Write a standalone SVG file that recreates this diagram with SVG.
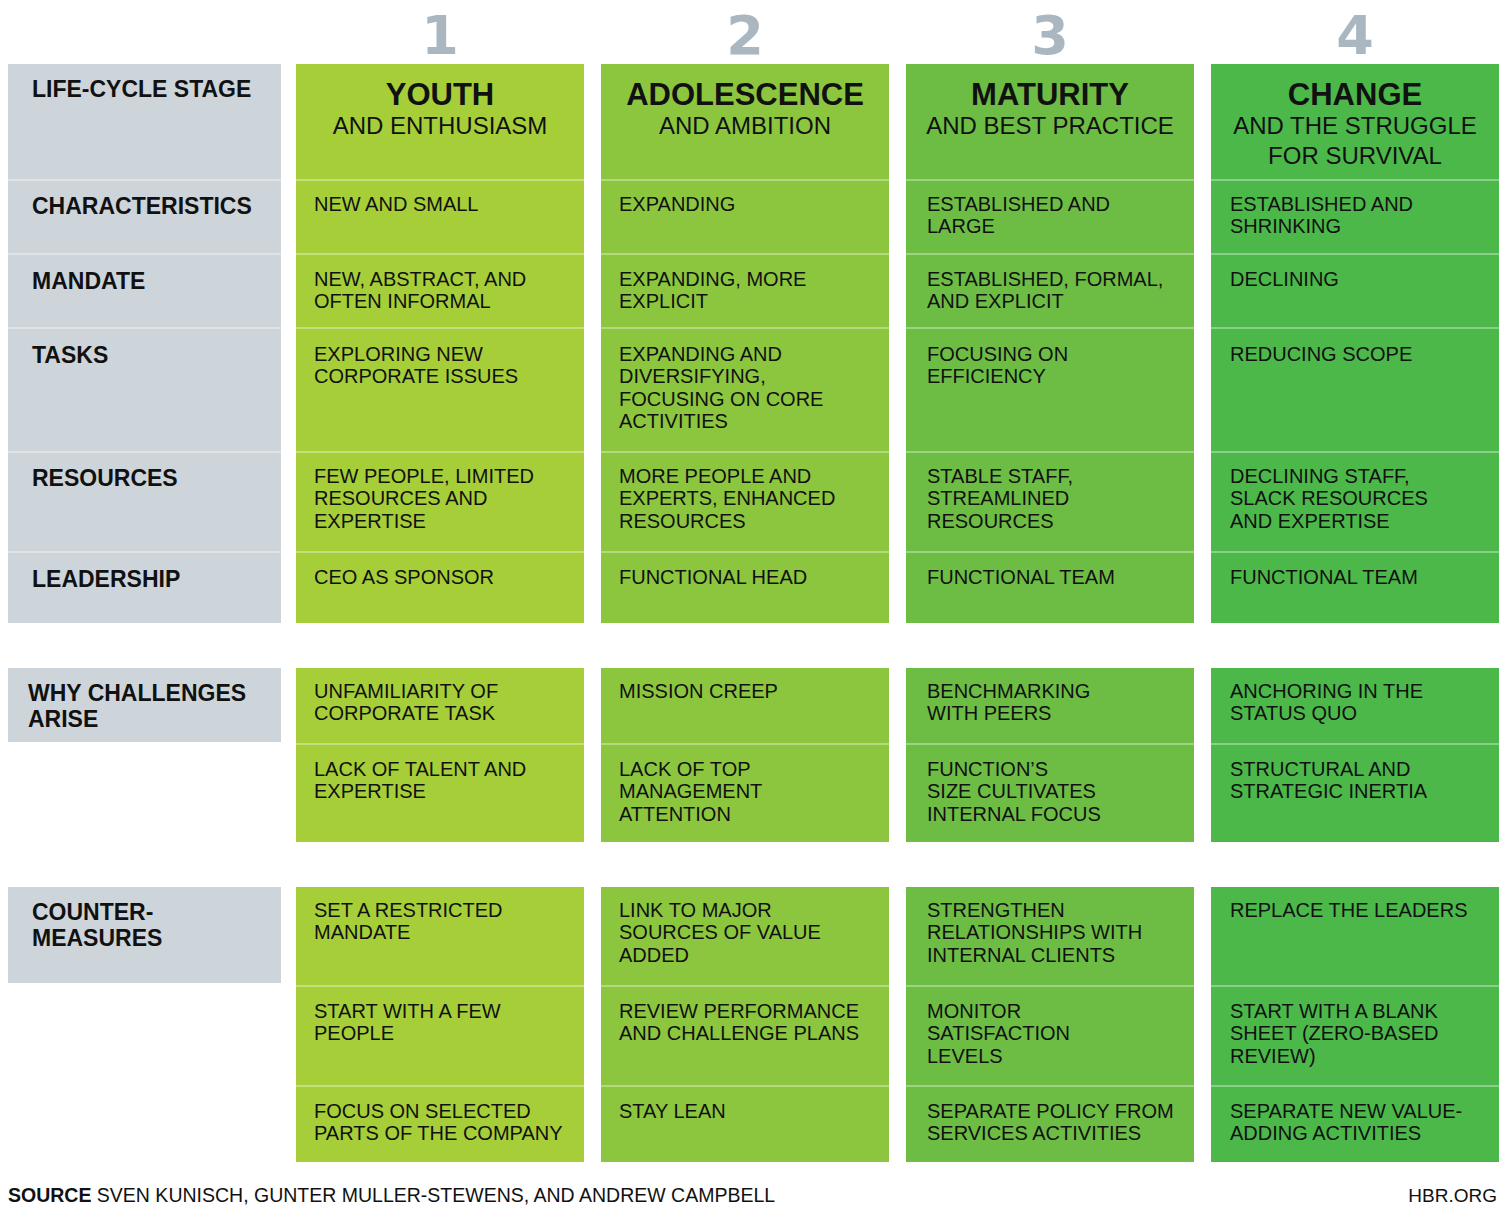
<svg xmlns="http://www.w3.org/2000/svg" width="1500" height="1209" viewBox="0 0 1500 1209">
<style>
text{font-family:"Liberation Sans",Arial,sans-serif;fill:#111}
.n{font-family:"DejaVu Sans",sans-serif;font-size:54px;font-weight:900;fill:#aab7c0;text-anchor:middle}
.h{font-size:31px;font-weight:bold;text-anchor:middle}
.s{font-size:24px;text-anchor:middle}
.l{font-size:23px;font-weight:bold}
.t{font-size:20px}
.c1{fill:#a6ce39}.c2{fill:#8cc63f}.c3{fill:#6dbd45}.c4{fill:#4cb84a}.g{fill:#cdd5db}
.d{stroke:#fff;stroke-opacity:.45;stroke-width:1.5}
</style>
<rect width="1500" height="1209" fill="#fff"/>
<g id="numbers">
<text class="n" x="440" y="54">1</text><text class="n" x="745" y="54">2</text><text class="n" x="1050" y="54">3</text><text class="n" x="1355" y="54">4</text>
</g>
<g id="backgrounds">
<rect class="g" x="8" y="64" width="273" height="559"/>
<rect class="c1" x="296" y="64" width="288" height="559"/>
<rect class="c2" x="601" y="64" width="288" height="559"/>
<rect class="c3" x="906" y="64" width="288" height="559"/>
<rect class="c4" x="1211" y="64" width="288" height="559"/>
<rect class="g" x="8" y="668" width="273" height="74"/>
<rect class="c1" x="296" y="668" width="288" height="174"/>
<rect class="c2" x="601" y="668" width="288" height="174"/>
<rect class="c3" x="906" y="668" width="288" height="174"/>
<rect class="c4" x="1211" y="668" width="288" height="174"/>
<rect class="g" x="8" y="887" width="273" height="96"/>
<rect class="c1" x="296" y="887" width="288" height="275"/>
<rect class="c2" x="601" y="887" width="288" height="275"/>
<rect class="c3" x="906" y="887" width="288" height="275"/>
<rect class="c4" x="1211" y="887" width="288" height="275"/>
</g>
<g id="dividers">
<path class="d" d="M8 180H1499M8 254H1499M8 328H1499M8 452H1499M8 552H1499M296 744H1499M296 986H1499M296 1086H1499"/>
</g>
<g id="labels">
<text class="l" x="32" y="97">LIFE-CYCLE STAGE</text>
<text class="l" x="32" y="214">CHARACTERISTICS</text>
<text class="l" x="32" y="289">MANDATE</text>
<text class="l" x="32" y="363">TASKS</text>
<text class="l" x="32" y="486">RESOURCES</text>
<text class="l" x="32" y="587">LEADERSHIP</text>
<text class="l" x="28" y="701">WHY CHALLENGES</text><text class="l" x="28" y="727">ARISE</text>
<text class="l" x="32" y="920">COUNTER-</text><text class="l" x="32" y="946">MEASURES</text>
</g>
<g id="headers">
<text class="h" x="440" y="105">YOUTH</text><text class="s" x="440" y="134">AND ENTHUSIASM</text>
<text class="h" x="745" y="105">ADOLESCENCE</text><text class="s" x="745" y="134">AND AMBITION</text>
<text class="h" x="1050" y="105">MATURITY</text><text class="s" x="1050" y="134">AND BEST PRACTICE</text>
<text class="h" x="1355" y="105">CHANGE</text><text class="s" x="1355" y="134">AND THE STRUGGLE</text><text class="s" x="1355" y="164">FOR SURVIVAL</text>
</g>
<g id="col1">
<text class="t" x="314" y="211">NEW AND SMALL</text>
<text class="t" x="314" y="286">NEW, ABSTRACT, AND</text><text class="t" x="314" y="308">OFTEN INFORMAL</text>
<text class="t" x="314" y="361">EXPLORING NEW</text><text class="t" x="314" y="383">CORPORATE ISSUES</text>
<text class="t" x="314" y="483">FEW PEOPLE, LIMITED</text><text class="t" x="314" y="505">RESOURCES AND</text><text class="t" x="314" y="528">EXPERTISE</text>
<text class="t" x="314" y="584">CEO AS SPONSOR</text>
<text class="t" x="314" y="698">UNFAMILIARITY OF</text><text class="t" x="314" y="720">CORPORATE TASK</text>
<text class="t" x="314" y="776">LACK OF TALENT AND</text><text class="t" x="314" y="798">EXPERTISE</text>
<text class="t" x="314" y="917">SET A RESTRICTED</text><text class="t" x="314" y="939">MANDATE</text>
<text class="t" x="314" y="1018">START WITH A FEW</text><text class="t" x="314" y="1040">PEOPLE</text>
<text class="t" x="314" y="1118">FOCUS ON SELECTED</text><text class="t" x="314" y="1140">PARTS OF THE COMPANY</text>
</g>
<g id="col2">
<text class="t" x="619" y="211">EXPANDING</text>
<text class="t" x="619" y="286">EXPANDING, MORE</text><text class="t" x="619" y="308">EXPLICIT</text>
<text class="t" x="619" y="361">EXPANDING AND</text><text class="t" x="619" y="383">DIVERSIFYING,</text><text class="t" x="619" y="406">FOCUSING ON CORE</text><text class="t" x="619" y="428">ACTIVITIES</text>
<text class="t" x="619" y="483">MORE PEOPLE AND</text><text class="t" x="619" y="505">EXPERTS, ENHANCED</text><text class="t" x="619" y="528">RESOURCES</text>
<text class="t" x="619" y="584">FUNCTIONAL HEAD</text>
<text class="t" x="619" y="698">MISSION CREEP</text>
<text class="t" x="619" y="776">LACK OF TOP</text><text class="t" x="619" y="798">MANAGEMENT</text><text class="t" x="619" y="821">ATTENTION</text>
<text class="t" x="619" y="917">LINK TO MAJOR</text><text class="t" x="619" y="939">SOURCES OF VALUE</text><text class="t" x="619" y="962">ADDED</text>
<text class="t" x="619" y="1018">REVIEW PERFORMANCE</text><text class="t" x="619" y="1040">AND CHALLENGE PLANS</text>
<text class="t" x="619" y="1118">STAY LEAN</text>
</g>
<g id="col3">
<text class="t" x="927" y="211">ESTABLISHED AND</text><text class="t" x="927" y="233">LARGE</text>
<text class="t" x="927" y="286">ESTABLISHED, FORMAL,</text><text class="t" x="927" y="308">AND EXPLICIT</text>
<text class="t" x="927" y="361">FOCUSING ON</text><text class="t" x="927" y="383">EFFICIENCY</text>
<text class="t" x="927" y="483">STABLE STAFF,</text><text class="t" x="927" y="505">STREAMLINED</text><text class="t" x="927" y="528">RESOURCES</text>
<text class="t" x="927" y="584">FUNCTIONAL TEAM</text>
<text class="t" x="927" y="698">BENCHMARKING</text><text class="t" x="927" y="720">WITH PEERS</text>
<text class="t" x="927" y="776">FUNCTION’S</text><text class="t" x="927" y="798">SIZE CULTIVATES</text><text class="t" x="927" y="821">INTERNAL FOCUS</text>
<text class="t" x="927" y="917">STRENGTHEN</text><text class="t" x="927" y="939">RELATIONSHIPS WITH</text><text class="t" x="927" y="962">INTERNAL CLIENTS</text>
<text class="t" x="927" y="1018">MONITOR</text><text class="t" x="927" y="1040">SATISFACTION</text><text class="t" x="927" y="1063">LEVELS</text>
<text class="t" x="927" y="1118">SEPARATE POLICY FROM</text><text class="t" x="927" y="1140">SERVICES ACTIVITIES</text>
</g>
<g id="col4">
<text class="t" x="1230" y="211">ESTABLISHED AND</text><text class="t" x="1230" y="233">SHRINKING</text>
<text class="t" x="1230" y="286">DECLINING</text>
<text class="t" x="1230" y="361">REDUCING SCOPE</text>
<text class="t" x="1230" y="483">DECLINING STAFF,</text><text class="t" x="1230" y="505">SLACK RESOURCES</text><text class="t" x="1230" y="528">AND EXPERTISE</text>
<text class="t" x="1230" y="584">FUNCTIONAL TEAM</text>
<text class="t" x="1230" y="698">ANCHORING IN THE</text><text class="t" x="1230" y="720">STATUS QUO</text>
<text class="t" x="1230" y="776">STRUCTURAL AND</text><text class="t" x="1230" y="798">STRATEGIC INERTIA</text>
<text class="t" x="1230" y="917">REPLACE THE LEADERS</text>
<text class="t" x="1230" y="1018">START WITH A BLANK</text><text class="t" x="1230" y="1040">SHEET (ZERO-BASED</text><text class="t" x="1230" y="1063">REVIEW)</text>
<text class="t" x="1230" y="1118">SEPARATE NEW VALUE-</text><text class="t" x="1230" y="1140">ADDING ACTIVITIES</text>
</g>
<g id="footer">
<text x="8" y="1202" font-size="19.5"><tspan font-weight="bold">SOURCE</tspan> SVEN KUNISCH, GUNTER MULLER-STEWENS, AND ANDREW CAMPBELL</text>
<text x="1497" y="1202" font-size="19" text-anchor="end">HBR.ORG</text>
</g>
</svg>
